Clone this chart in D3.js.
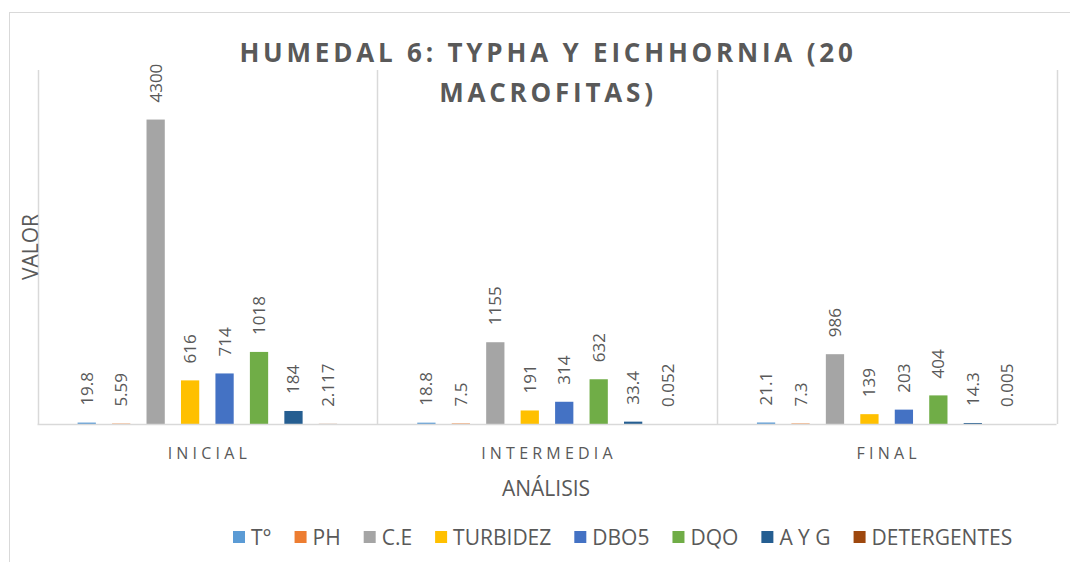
<!DOCTYPE html>
<html>
<head>
<meta charset="utf-8">
<script src="https://cdn.jsdelivr.net/npm/d3@7"></script>
<style>
  body { margin: 0; background: #fff; }
  svg { display: block; font-family: "Open Sans", sans-serif; }
</style>
</head>
<body>
<svg width="1070" height="562"></svg>
<script>
const categories = ['INICIAL', 'INTERMEDIA', 'FINAL']
const series = ['T°', 'PH', 'C.E', 'TURBIDEZ', 'DBO5', 'DQO', 'A Y G', 'DETERGENTES']
const colors = ['#5B9BD5', '#ED7D31', '#A5A5A5', '#FFC000', '#4472C4', '#70AD47', '#255E91', '#9E480E']
// values per series, in category order
const tVals = [19.8, 18.8, 21.1]
const phVals = [5.59, 7.5, 7.3]
const ceVals = [4300, 1155, 986]
const turbVals = [616, 191, 139]
const dboVals = [714, 314, 203]
const dqoVals = [1018, 632, 404]
const aygVals = [184, 33.4, 14.3]
const detVals = [2.117, 0.052, 0.005]
const labels = [
    ['19.8', '18.8', '21.1'],
    ['5.59', '7.5', '7.3'],
    ['4300', '1155', '986'],
    ['616', '191', '139'],
    ['714', '314', '203'],
    ['1018', '632', '404'],
    ['184', '33.4', '14.3'],
    ['2.117', '0.052', '0.005']
]
const allVals = [tVals, phVals, ceVals, turbVals, dboVals, dqoVals, aygVals, detVals]
const yMax = 5000

const svg = d3.select('svg')
const textColor = '#595959'
const gridColor = '#d9d9d9'

// outer chart border
svg.append('rect')
    .attr('x', 9.5).attr('y', 12.5)
    .attr('width', 1080).attr('height', 600)
    .attr('fill', 'none').attr('stroke', gridColor)

const plot = { left: 37.5, right: 1056.5, top: 70, bottom: 424 }

const x0 = d3.scaleBand().domain(categories).range([plot.left, plot.right])
const x1 = d3.scaleBand().domain(series)
    .range([32, x0.bandwidth() - 32])
    .paddingInner(0.47).paddingOuter(0.235)
const y = d3.scaleLinear().domain([0, yMax]).range([plot.bottom, plot.top])

// vertical category separators
const seps = [plot.left].concat(categories.map(c => x0(c) + x0.bandwidth()))
svg.selectAll('.sep')
    .data(seps)
    .enter().append('line')
    .attr('class', 'sep')
    .attr('x1', d => Math.round(d) + 0.5).attr('x2', d => Math.round(d) + 0.5)
    .attr('y1', plot.top).attr('y2', plot.bottom)
    .attr('stroke', gridColor).attr('stroke-width', 1.5)

const rows = []
series.forEach((s, si) => {
    categories.forEach((c, ci) => {
        rows.push({ s: s, si: si, c: c, v: allVals[si][ci], label: labels[si][ci] })
    })
})

svg.selectAll('.bar')
    .data(rows)
    .enter().append('rect')
    .attr('class', 'bar')
    .attr('x', d => x0(d.c) + x1(d.s))
    .attr('y', d => y(d.v))
    .attr('width', x1.bandwidth())
    .attr('height', d => plot.bottom - y(d.v))
    .attr('fill', d => colors[d.si])

svg.selectAll('.val')
    .data(rows)
    .enter().append('text')
    .attr('class', 'val')
    .attr('transform', d => {
        const cx = x0(d.c) + x1(d.s) + x1.bandwidth() / 2
        const cy = y(d.v) - 17
        return `translate(${cx + 6},${cy}) rotate(-90)`
    })
    .attr('fill', textColor)
    .attr('font-size', 17)
    .text(d => d.label)

// baseline
svg.append('line')
    .attr('x1', plot.left).attr('x2', plot.right)
    .attr('y1', plot.bottom + 0.5).attr('y2', plot.bottom + 0.5)
    .attr('stroke', gridColor).attr('stroke-width', 1.5)

// category labels
svg.selectAll('.cat')
    .data(categories)
    .enter().append('text')
    .attr('class', 'cat')
    .attr('x', d => x0(d) + x0.bandwidth() / 2 + 2)
    .attr('y', 459)
    .attr('text-anchor', 'middle')
    .attr('fill', textColor)
    .attr('font-size', 16)
    .attr('letter-spacing', 4.2)
    .text(d => d)

// title
const title = svg.append('text')
    .attr('text-anchor', 'middle')
    .attr('fill', textColor)
    .attr('font-size', 26)
    .attr('font-weight', 'bold')
    .attr('letter-spacing', 3.8)
title.append('tspan').attr('x', 548).attr('y', 62).text('HUMEDAL 6: TYPHA Y EICHHORNIA (20')
title.append('tspan').attr('x', 548).attr('y', 102).text('MACROFITAS)')

// axis titles
svg.append('text')
    .attr('transform', 'translate(38,247) rotate(-90)')
    .attr('text-anchor', 'middle')
    .attr('fill', textColor)
    .attr('font-size', 21)
    .text('VALOR')

svg.append('text')
    .attr('x', 546).attr('y', 496)
    .attr('text-anchor', 'middle')
    .attr('fill', textColor)
    .attr('font-size', 21)
    .text('ANÁLISIS')

// legend
const legend = svg.append('g').attr('transform', 'translate(233,537)')
let lx = 0
series.forEach((s, i) => {
    const g = legend.append('g').attr('transform', `translate(${lx},0)`)
    g.append('rect')
        .attr('x', 0).attr('y', -6)
        .attr('width', 12).attr('height', 12)
        .attr('fill', colors[i])
    const t = g.append('text')
        .attr('x', 18).attr('y', 8)
        .attr('fill', textColor)
        .attr('font-size', 21)
        .text(s)
    lx += 18 + t.node().getComputedTextLength() + 23
})
</script>
</body>
</html>
